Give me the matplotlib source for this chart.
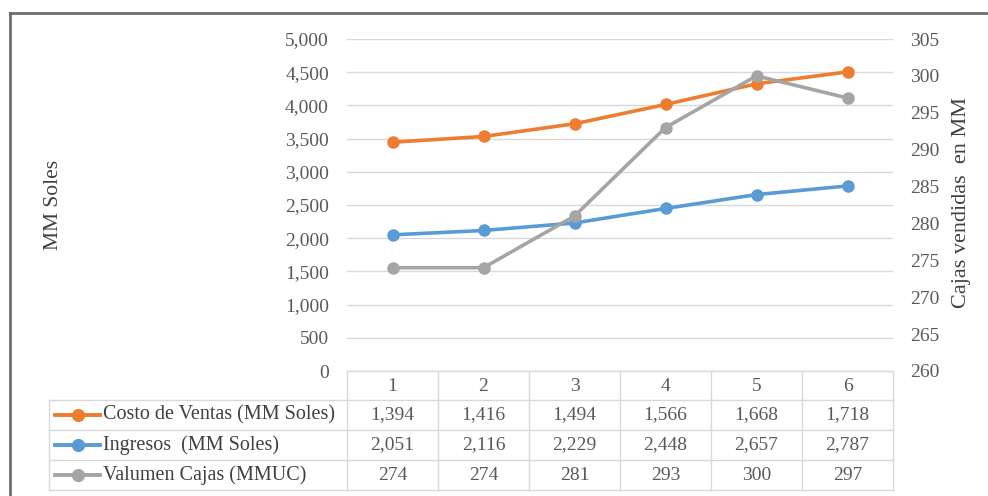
import matplotlib.pyplot as plt
from matplotlib.lines import Line2D

periodos = ["1", "2", "3", "4", "5", "6"]
costo_ventas = [1394, 1416, 1494, 1566, 1668, 1718]
ingresos = [2051, 2116, 2229, 2448, 2657, 2787]
volumen_cajas = [274, 274, 281, 293, 300, 297]

series_names = ["Costo de Ventas (MM Soles)", "Ingresos  (MM Soles)", "Valumen Cajas (MMUC)"]
colors = ["#ED7D31", "#5B9BD5", "#A5A5A5"]

plt.rcParams['font.family'] = ['Liberation Serif', 'DejaVu Serif']
W, H = 988, 496
fig = plt.figure(figsize=(W / 100, H / 100), dpi=100)


def fx(px):
    return px / W


def fy(py):
    return 1 - py / H


# plot area in pixel terms
left, right, top, bottom = 347, 893, 39, 371
ax = fig.add_axes([fx(left), fy(bottom), fx(right - left), fy(top) - fy(bottom)])
ax2 = ax.twinx()

x = list(range(len(periodos)))
# stacked line: costo drawn on top of ingresos
costo_stacked = [c + i for c, i in zip(costo_ventas, ingresos)]

ax.plot(x, costo_stacked, color=colors[0], lw=2.6, marker="o", ms=8, zorder=3)
ax.plot(x, ingresos, color=colors[1], lw=2.6, marker="o", ms=8, zorder=3)
ax2.plot(x, volumen_cajas, color=colors[2], lw=2.6, marker="o", ms=8, zorder=3)

ax.set_xlim(-0.5, len(periodos) - 0.5)
ax.set_ylim(0, 5000)
ax2.set_ylim(260, 305)
ax.set_yticks(range(0, 5001, 500))
ax.set_yticklabels([f"{v:,}" for v in range(0, 5001, 500)])
ax2.set_yticks(range(260, 306, 5))
ax.grid(axis="y", color="#D9D9D9", lw=1)
ax.set_axisbelow(True)
ax.set_xticks([])
for a in (ax, ax2):
    for s in a.spines.values():
        s.set_visible(False)
    a.tick_params(length=0, labelsize=14, colors="#595959")
ax.tick_params(axis="y", pad=13)
ax2.tick_params(axis="y", pad=12)

fig.text(fx(53), fy(205), "MM Soles", rotation=90, ha="center", va="center",
         fontsize=15.5, color="#404040")
fig.text(fx(961), fy(203), "Cajas vendidas  en MM", rotation=90, ha="center",
         va="center", fontsize=16, color="#404040")

# outer frame
fig.add_artist(Line2D([fx(10), fx(10)], [fy(13), 0], color="#6E6E6E", lw=2))
fig.add_artist(Line2D([fx(10), 1], [fy(13), fy(13)], color="#6E6E6E", lw=2))

# data table under the plot
grid_c = "#D9D9D9"
col_w = (right - left) / len(periodos)
row_y = [371, 400, 430, 460, 490]
leg_left = 49


def hline(x0, x1, y):
    fig.add_artist(Line2D([fx(x0), fx(x1)], [fy(y), fy(y)], color=grid_c, lw=1))


def vline(xp, y0, y1):
    fig.add_artist(Line2D([fx(xp), fx(xp)], [fy(y0), fy(y1)], color=grid_c, lw=1))


hline(left, right, row_y[0])
for y in row_y[1:]:
    hline(leg_left, right, y)
vline(leg_left, row_y[1], row_y[-1])
for k in range(len(periodos) + 1):
    vline(left + k * col_w, row_y[0], row_y[-1])

for k, p in enumerate(periodos):
    fig.text(fx(left + (k + 0.5) * col_w), fy((row_y[0] + row_y[1]) / 2 + 1), p,
             ha="center", va="center", fontsize=14, color="#595959")

rows = [costo_ventas, ingresos, volumen_cajas]
for r, (name, vals, c) in enumerate(zip(series_names, rows, colors)):
    yc = fy((row_y[r + 1] + row_y[r + 2]) / 2)
    fig.add_artist(Line2D([fx(55), fx(100)], [yc, yc], color=c, lw=2.8))
    fig.add_artist(Line2D([fx(77.5)], [yc], color=c, marker="o", ms=8.5, lw=0))
    fig.text(fx(103), yc, name, ha="left", va="center", fontsize=14.5, color="#404040")
    for k, v in enumerate(vals):
        fig.text(fx(left + (k + 0.5) * col_w), yc, f"{v:,}", ha="center",
                 va="center", fontsize=14, color="#595959")

fig.savefig("out.png", dpi=100)
